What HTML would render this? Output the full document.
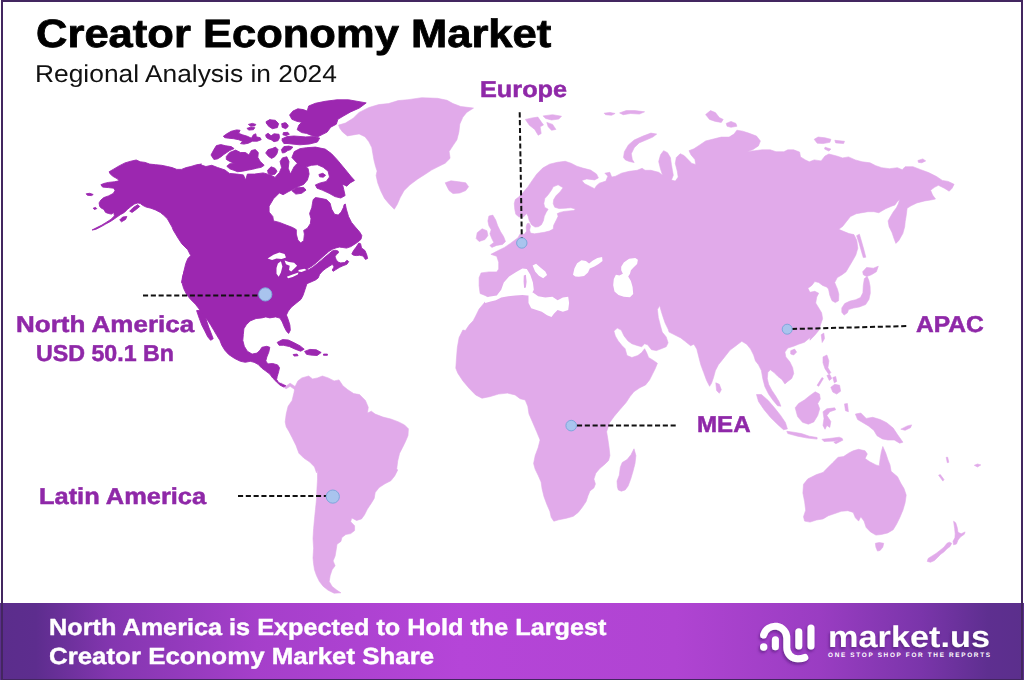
<!DOCTYPE html>
<html lang="en">
<head>
<meta charset="utf-8">
<title>Creator Economy Market - Regional Analysis in 2024</title>
<style>
html,body{margin:0;padding:0;}
body{width:1024px;height:680px;overflow:hidden;background:#fff;font-family:"Liberation Sans",sans-serif;position:relative;text-rendering:geometricPrecision;}
.frame{position:absolute;left:1px;top:0;width:1022px;height:680px;box-sizing:border-box;border:solid #432660;border-width:2px 2px 1.5px 2px;z-index:5;pointer-events:none;}
.t{position:absolute;white-space:nowrap;line-height:1;margin:0;transform-origin:0 0;}
.title{left:35.5px;top:15.4px;font-size:39.5px;font-weight:700;color:#000;-webkit-text-stroke:0.8px #000;}
.sub{left:35px;top:62.8px;font-size:24.5px;font-weight:400;color:#111;}
.lab{font-weight:700;color:#8f28a8;font-size:23px;-webkit-text-stroke:0.5px #8f28a8;}
.footer{position:absolute;left:0;top:603px;width:1024px;height:77px;
 background:linear-gradient(90deg,#5b2d8c 0%,#5d2d8e 3.5%,#8436b0 11%,#a53fca 25%,#b545d8 45%,#b044d2 66%,#9a3dc2 80%,#7a35aa 90%,#5e2f90 96.5%,#5b2f8c 100%);}
.ft{color:#fff;font-weight:700;font-size:23.2px;-webkit-text-stroke:0.4px #fff;}
svg{position:absolute;left:0;top:0;}
</style>
</head>
<body>
<svg width="1024" height="680" viewBox="0 0 1024 680">
<path d="M280.9,382.8 L286.2,386.0 L290.1,383.2 L295.4,386.7 L295.8,390.3 L290.1,386.3 L286.2,388.7 L280.3,385.2Z M338.6,125.1 L345.4,123.1 L353.2,118.2 L359.1,112.4 L368.9,107.5 L378.7,104.6 L388.5,103.6 L398.2,100.6 L408.0,99.7 L421.7,97.7 L437.4,98.3 L447.1,100.3 L453.0,103.6 L460.8,106.5 L473.5,108.1 L466.7,112.4 L462.8,117.3 L459.8,124.1 L458.9,131.9 L456.9,139.8 L453.0,145.6 L449.1,151.5 L450.1,158.3 L445.2,163.2 L437.4,167.1 L431.5,170.1 L425.6,174.0 L417.8,178.9 L410.0,184.8 L404.1,190.6 L400.2,197.5 L397.3,204.3 L394.3,209.2 L389.4,204.3 L384.5,198.4 L380.6,190.6 L377.7,182.8 L376.1,175.4 L377.1,171.1 L375.5,166.2 L374.0,160.3 L372.8,153.5 L371.8,147.6 L368.9,141.7 L365.0,136.8 L359.1,133.9 L353.2,134.9 L347.4,135.9 L342.5,131.9 L339.6,128.0Z M445.2,182.8 L451.0,180.8 L458.9,181.8 L465.7,182.8 L468.6,186.7 L465.7,190.6 L459.8,193.0 L453.0,193.6 L449.1,190.6 L447.1,186.7Z M295.0,386.7 L297.9,380.9 L301.8,377.9 L308.7,376.0 L312.6,378.9 L317.5,377.9 L322.4,376.0 L328.2,377.9 L334.1,380.9 L339.0,379.9 L342.9,385.8 L347.8,389.7 L353.7,393.6 L359.5,394.6 L365.4,400.4 L368.3,407.3 L367.4,413.1 L371.3,411.2 L375.2,414.1 L383.0,417.1 L390.8,419.0 L398.6,421.9 L404.5,424.9 L408.4,428.8 L408.0,435.6 L405.5,441.5 L402.6,447.4 L399.6,453.2 L397.7,461.1 L396.7,468.9 L397.7,470.0 L394.7,475.9 L390.8,480.8 L385.0,483.7 L379.1,487.6 L375.2,492.5 L374.2,498.4 L371.3,503.2 L367.4,509.1 L364.4,515.0 L361.5,518.9 L356.6,520.5 L351.7,517.9 L350.7,521.8 L354.6,525.7 L354.6,530.6 L350.7,533.6 L345.8,534.5 L341.9,537.5 L340.9,541.4 L337.0,544.3 L336.1,550.2 L335.1,556.1 L333.1,560.9 L335.1,565.8 L332.1,569.8 L330.2,575.6 L329.2,581.5 L332.1,586.4 L337.0,590.3 L340.9,592.8 L334.1,593.2 L328.2,590.3 L323.3,586.4 L319.4,581.5 L316.5,575.6 L314.5,569.8 L313.6,563.9 L313.0,558.0 L313.6,548.2 L313.0,538.5 L313.6,528.7 L314.5,518.9 L315.5,509.1 L316.5,499.3 L316.9,489.6 L317.5,479.8 L317.5,470.0 L316.5,472.8 L314.5,466.9 L309.7,462.0 L303.8,458.1 L298.9,453.2 L296.0,445.4 L292.1,437.6 L289.1,431.7 L286.2,426.8 L285.2,421.9 L286.2,414.1 L288.1,406.3 L292.1,400.4 L294.0,392.6Z M516.3,198.8 L518.2,197.5 L523.1,192.6 L528.0,186.7 L531.9,180.9 L536.8,174.0 L542.7,168.1 L549.5,164.2 L557.4,162.3 L565.2,161.3 L571.0,163.2 L576.9,166.2 L582.8,168.1 L590.6,170.1 L596.5,174.0 L598.4,177.9 L594.5,179.9 L586.7,178.9 L581.8,180.5 L584.7,183.8 L590.6,186.7 L594.5,188.7 L596.5,185.7 L599.4,183.2 L605.9,181.1 L607.8,176.2 L604.9,173.2 L609.8,172.3 L611.7,177.1 L615.6,176.2 L621.5,173.2 L629.3,171.3 L637.2,170.3 L642.1,168.3 L645.0,170.3 L650.9,170.3 L658.7,172.3 L662.6,175.2 L660.6,169.3 L658.7,161.5 L660.6,154.7 L663.6,150.7 L667.5,152.7 L670.4,157.6 L671.4,164.4 L672.4,170.3 L673.3,175.2 L671.4,180.1 L675.3,181.1 L678.2,177.1 L677.3,171.3 L675.3,163.5 L676.3,157.6 L680.2,153.7 L684.1,155.6 L688.0,159.5 L691.9,163.5 L695.8,164.4 L694.9,159.5 L690.9,154.7 L689.0,150.7 L693.9,148.8 L699.8,144.9 L705.6,141.0 L713.4,139.0 L721.3,137.1 L729.1,137.1 L734.0,134.1 L736.9,130.2 L742.8,131.2 L748.6,133.1 L756.5,136.1 L760.4,141.0 L758.4,145.9 L752.6,149.8 L746.7,151.7 L754.5,150.7 L762.3,149.8 L770.2,149.8 L776.0,151.7 L783.9,151.7 L787.8,149.8 L793.6,149.8 L799.6,152.1 L800.5,156.9 L805.4,159.9 L809.3,161.8 L814.2,159.9 L821.1,160.9 L825.0,156.0 L828.9,154.0 L836.7,156.0 L842.6,157.9 L848.5,156.9 L855.3,159.9 L862.1,161.8 L870.0,162.8 L875.8,165.7 L881.7,167.7 L889.5,168.7 L897.4,167.7 L902.2,169.7 L905.2,166.7 L913.0,166.7 L920.8,169.7 L928.6,172.6 L936.5,176.5 L942.3,180.4 L948.2,181.4 L954.1,184.3 L952.1,188.2 L949.2,191.2 L944.3,188.2 L938.4,185.3 L934.5,187.3 L930.6,190.2 L932.6,195.1 L935.5,199.0 L930.6,200.0 L924.7,200.9 L916.9,202.9 L911.0,205.8 L907.1,208.2 L906.2,215.6 L905.2,221.5 L904.7,226.7 L902.8,233.6 L898.9,240.4 L895.9,243.4 L894.0,238.5 L892.0,232.6 L889.1,226.7 L888.1,220.9 L890.5,216.6 L893.4,211.7 L896.4,207.8 L898.3,203.9 L899.7,199.6 L897.4,201.5 L895.0,204.9 L891.5,206.2 L885.6,208.8 L878.8,212.7 L873.9,211.7 L868.0,211.7 L862.1,212.7 L856.3,213.7 L850.4,216.6 L846.5,221.5 L842.6,226.4 L838.7,229.3 L844.1,231.6 L849.0,233.6 L853.9,234.6 L856.8,240.4 L857.8,248.2 L855.8,255.1 L851.9,261.9 L849.0,266.8 L846.1,271.7 L842.1,274.7 L837.3,277.6 L834.7,282.5 L836.3,286.4 L837.5,289.3 L838.8,294.2 L838.6,300.7 L835.3,302.6 L832.0,300.7 L829.8,295.2 L828.5,288.9 L826.5,287.0 L822.6,285.4 L818.7,282.5 L814.8,281.5 L811.8,285.4 L807.9,288.3 L809.9,292.3 L814.8,291.3 L818.7,293.2 L816.7,297.1 L815.7,303.0 L818.7,307.9 L821.6,312.8 L822.6,318.7 L820.6,324.5 L818.7,330.4 L814.8,335.3 L809.9,340.2 L810.3,337.4 L804.4,342.3 L798.6,344.2 L793.7,346.2 L787.8,348.1 L784.9,352.1 L785.8,356.9 L789.8,361.8 L792.7,367.7 L793.7,373.6 L791.7,378.5 L787.8,381.4 L784.9,383.9 L781.9,379.4 L778.0,376.5 L774.1,372.6 L770.2,369.7 L767.8,372.6 L767.3,378.5 L768.6,384.3 L771.8,390.2 L775.7,396.1 L779.0,401.5 L780.9,406.2 L777.6,405.8 L773.1,400.4 L768.6,394.1 L764.9,386.7 L762.8,378.8 L761.4,370.6 L758.5,364.8 L755.5,360.9 L753.6,355.0 L750.6,349.1 L746.7,344.2 L741.8,341.3 L737.9,344.2 L734.0,347.2 L730.1,350.1 L726.2,355.0 L722.3,359.9 L718.4,364.8 L715.4,370.6 L713.5,377.5 L711.5,383.3 L709.6,386.3 L706.6,380.4 L703.7,372.6 L700.8,364.8 L698.8,356.9 L696.8,349.1 L693.9,344.2 L690.6,345.7 L685.7,341.8 L680.8,337.9 L676.9,336.0 L673.0,334.0 L669.1,332.1 L668.1,329.1 L665.2,323.2 L663.2,317.4 L661.3,311.5 L659.7,305.6 L657.4,309.6 L658.3,317.4 L660.3,325.2 L662.2,332.1 L666.2,336.9 L668.1,342.8 L666.2,346.7 L661.3,348.7 L656.4,350.6 L651.5,349.7 L647.6,344.8 L644.6,343.8 L641.7,346.7 L637.8,345.7 L631.9,343.8 L628.0,340.9 L624.1,336.0 L621.2,330.1 L617.3,328.1 L613.9,331.1 L615.3,336.0 L618.2,340.9 L622.1,345.7 L625.1,348.7 L627.0,355.5 L631.9,357.5 L637.8,355.5 L641.7,352.6 L644.6,348.7 L646.6,352.6 L648.6,357.5 L653.4,360.4 L657.4,363.3 L655.4,368.2 L652.5,374.1 L649.5,380.0 L645.6,384.9 L639.8,387.8 L633.9,391.7 L630.0,396.6 L626.1,402.5 L620.2,409.3 L614.3,416.2 L609.4,423.0 L606.6,431.8 L607.9,439.4 L609.1,447.8 L609.9,455.6 L608.6,460.5 L604.6,464.4 L599.8,468.4 L595.8,473.2 L593.9,479.1 L595.4,484.0 L593.9,487.9 L590.0,490.9 L588.0,495.7 L586.1,501.6 L582.1,507.5 L578.2,512.4 L573.3,516.3 L566.5,518.2 L558.7,519.8 L553.8,521.2 L551.2,517.3 L549.9,511.4 L546.9,504.5 L544.0,496.7 L542.1,488.9 L541.1,482.1 L538.1,475.2 L535.2,469.3 L533.6,463.5 L535.2,455.6 L538.1,447.8 L540.1,440.0 L536.7,431.8 L532.9,422.9 L529.0,414.0 L527.8,406.3 L525.2,400.0 L520.1,398.7 L515.1,394.9 L507.4,393.1 L498.5,394.1 L489.6,396.7 L482.0,398.2 L475.6,394.9 L469.3,388.5 L462.9,380.9 L457.8,373.2 L455.8,368.2 L456.5,358.0 L457.3,347.8 L459.1,337.6 L462.9,330.0 L465.4,330.6 L469.3,324.8 L473.2,320.8 L476.2,315.0 L479.1,309.1 L484.0,303.2 L486.9,299.3 L488.9,297.4 L485.0,295.4 L480.1,293.5 L479.1,285.6 L479.1,277.8 L481.1,272.9 L488.9,271.9 L496.7,271.9 L498.7,269.0 L498.7,262.2 L496.7,256.3 L490.9,254.3 L498.7,250.3 L504.5,247.4 L510.4,243.4 L514.3,240.5 L518.2,237.6 L519.7,234.5 L524.6,234.0 L526.6,231.1 L526.1,227.1 L527.1,223.7 L529.1,223.2 L530.5,226.2 L529.6,230.1 L530.5,233.1 L534.5,233.8 L539.4,233.1 L544.3,232.3 L549.3,231.1 L553.2,229.1 L553.7,225.2 L555.2,222.2 L556.7,219.3 L558.1,216.3 L557.3,213.6 L560.1,212.4 L564.0,211.4 L569.0,210.9 L573.9,210.4 L575.4,208.9 L570.9,207.8 L565.0,208.2 L559.1,208.6 L554.7,207.2 L553.2,203.5 L553.7,199.6 L556.2,195.6 L560.1,191.7 L563.1,187.7 L558.1,184.8 L553.2,186.8 L551.7,189.7 L548.3,194.6 L544.8,198.6 L543.8,203.5 L544.8,207.4 L548.1,209.2 L546.1,212.4 L544.3,216.3 L543.4,220.7 L541.4,224.7 L538.4,226.7 L535.0,227.1 L531.5,224.7 L529.1,220.2 L528.1,216.3 L526.6,213.4 L525.1,215.3 L522.7,217.5 L518.7,216.8 L515.8,214.3 L514.8,209.4 L514.3,203.5 L515.3,199.6Z M488.9,216.1 L492.8,215.1 L495.7,220.0 L497.7,225.8 L500.6,231.7 L503.6,236.6 L505.5,241.5 L502.6,244.4 L496.7,245.4 L491.8,247.4 L489.9,245.4 L493.8,242.5 L491.8,238.6 L489.9,233.7 L491.2,229.8 L488.9,225.8 L487.9,220.9Z M477.2,232.7 L482.1,228.8 L486.9,230.7 L487.9,235.6 L485.0,239.5 L479.1,241.5 L476.2,238.6Z M623.5,157.6 L624.4,151.7 L628.4,144.9 L634.2,140.0 L643.0,136.1 L650.9,133.1 L656.7,134.1 L652.8,137.1 L646.0,140.0 L639.1,142.9 L634.2,147.8 L631.3,153.7 L632.3,159.5 L634.2,162.5 L629.3,161.5 L625.4,159.9Z M604.1,113.2 L610.0,112.4 L615.1,113.5 L611.5,115.3 L605.6,114.7Z M619.6,112.9 L626.2,110.6 L635.0,110.6 L644.6,111.8 L639.4,114.1 L630.6,113.5 L623.2,114.7Z M705.6,114.6 L710.5,110.6 L715.4,112.6 L719.3,117.5 L723.2,119.4 L721.3,122.4 L715.4,121.4 L709.5,119.4Z M726.2,123.4 L731.0,121.4 L735.9,123.4 L736.9,126.3 L731.0,127.3 L727.1,126.3Z M814.2,139.3 L818.1,137.0 L825.0,137.8 L830.9,139.3 L829.9,142.3 L823.0,143.6 L817.2,143.2Z M834.8,140.3 L844.5,141.3 L843.6,143.6 L835.7,142.9Z M825.0,147.2 L830.9,149.1 L828.9,151.1 L824.6,149.1Z M917.9,160.5 L922.8,158.9 L925.7,160.9 L921.8,162.8 L918.5,162.4Z M525.4,119.4 L532.1,117.9 L537.9,117.1 L541.2,121.8 L543.5,125.0 L540.1,126.8 L541.2,133.5 L538.2,135.3 L534.7,129.4 L529.4,125.3Z M543.1,115.9 L552.6,114.7 L561.5,116.2 L558.8,119.1 L551.5,120.0 L545.6,118.5Z M546.8,122.4 L552.6,124.4 L555.9,129.4 L551.5,130.3 L548.2,126.8Z M856.6,235.7 L859.4,234.2 L861.7,242.0 L863.9,249.8 L865.8,257.2 L863.3,257.6 L861.1,250.2 L859.0,242.8Z M862.7,271.7 L866.6,267.4 L873.4,268.2 L878.3,266.2 L876.4,271.7 L871.5,274.7 L866.6,276.6 L863.3,274.7Z M867.2,276.6 L868.9,280.5 L870.1,286.4 L870.3,293.2 L868.9,299.5 L865.6,304.6 L859.4,306.9 L853.5,308.1 L848.6,309.5 L847.4,312.8 L844.1,315.1 L841.8,312.2 L841.8,307.9 L844.7,303.6 L850.0,301.1 L855.8,299.7 L860.5,297.5 L862.9,292.8 L863.3,285.4 L864.4,278.6Z M821.2,334.7 L823.8,333.1 L824.5,338.6 L822.2,342.5Z M790.7,350.7 L794.6,349.1 L796.6,352.1 L793.7,355.0 L790.7,354.0Z M715.8,382.8 L719.3,384.3 L721.3,389.8 L719.3,393.3 L716.6,390.6Z M756.5,394.5 L761.4,394.5 L768.2,400.4 L774.5,407.8 L780.4,415.2 L785.4,422.5 L787.4,428.9 L783.5,429.7 L777.6,424.4 L770.6,417.6 L763.9,409.4 L758.5,401.5Z M786.8,431.3 L793.7,432.2 L801.5,433.6 L809.3,436.2 L817.1,437.5 L817.1,439.1 L807.4,438.1 L797.6,436.2 L787.8,433.6Z M795.2,407.8 L798.6,403.5 L804.4,400.0 L809.7,395.7 L815.2,391.8 L819.5,394.1 L820.3,399.0 L817.7,403.5 L819.7,408.8 L817.7,415.6 L813.8,421.9 L808.3,424.2 L802.5,422.3 L797.6,416.6Z M823.0,411.7 L826.9,408.8 L834.7,407.8 L835.7,409.8 L829.8,411.7 L826.9,415.6 L830.8,421.5 L829.8,427.4 L826.9,425.4 L825.0,429.3 L823.0,425.4 L824.0,418.6Z M823.0,356.9 L826.9,355.0 L828.9,360.9 L827.9,367.7 L830.8,372.6 L828.9,374.5 L825.0,368.7 L823.0,362.8Z M830.8,387.3 L834.7,384.3 L839.6,385.3 L840.6,391.2 L836.7,394.1 L832.8,392.1Z M826.9,375.5 L829.8,374.5 L831.8,378.5 L829.3,380.4Z M832.8,377.5 L835.7,376.5 L836.7,381.4 L834.3,382.8Z M817.1,385.3 L822.0,377.5 L823.4,378.5 L818.7,386.3Z M855.4,414.1 L860.8,413.0 L866.2,418.4 L872.7,417.3 L880.2,419.5 L886.7,422.7 L893.2,428.1 L897.5,434.6 L902.9,442.2 L899.7,443.2 L894.3,440.0 L887.8,440.0 L882.4,438.9 L877.0,435.7 L873.8,430.3 L868.4,425.9 L863.0,422.7 L857.6,419.5Z M900.8,429.2 L907.3,425.9 L911.6,424.9 L910.5,427.7 L905.1,430.3Z M821.9,439.3 L829.4,438.5 L839.2,437.2 L842.4,438.5 L834.9,441.1 L824.0,441.5Z M833.8,442.2 L841.3,438.5 L843.1,440.0 L835.9,443.7Z M844.5,403.9 L847.4,403.5 L848.4,411.7 L845.5,410.7Z M803.5,484.3 L807.8,478.9 L816.5,474.6 L823.0,472.4 L827.3,468.1 L832.7,462.7 L838.1,457.3 L843.5,456.6 L848.9,453.0 L853.2,450.8 L858.6,449.3 L865.1,450.8 L867.3,454.0 L865.1,458.4 L869.4,461.6 L875.9,464.9 L879.2,465.9 L880.2,458.4 L881.3,451.9 L882.8,446.5 L885.7,453.0 L887.8,459.4 L890.0,464.9 L891.1,471.3 L897.5,476.7 L900.8,483.2 L904.0,488.6 L906.2,495.1 L905.1,502.7 L902.9,510.2 L899.7,517.8 L896.5,524.3 L893.2,529.7 L887.8,532.9 L881.3,534.5 L875.9,535.1 L870.5,531.9 L866.2,527.5 L864.0,521.1 L860.8,516.7 L858.6,521.1 L855.4,517.8 L853.2,512.4 L847.8,510.7 L841.3,511.3 L834.9,513.5 L828.4,515.7 L823.0,518.9 L816.5,520.0 L810.0,522.1 L804.6,521.1 L803.5,516.7 L805.7,510.2 L804.6,501.6 L802.9,493.0Z M875.4,543.3 L879.3,542.5 L883.7,543.3 L882.8,547.2 L880.1,550.4 L877.5,551.1 L875.9,547.2Z M953.6,521.2 L955.7,522.8 L957.2,527.5 L958.0,532.3 L961.2,533.8 L965.1,531.9 L964.3,534.3 L960.4,537.0 L958.0,540.1 L956.4,544.1 L953.6,544.8 L953.0,541.2 L954.9,537.8 L955.2,533.8 L954.6,528.3Z M951.7,543.3 L950.1,546.4 L947.0,548.8 L943.9,551.9 L940.7,554.3 L937.6,557.4 L934.4,560.6 L930.5,562.2 L927.3,561.4 L928.1,558.5 L932.1,555.9 L936.0,553.5 L939.9,550.4 L943.9,547.2 L947.0,543.3 L949.4,542.2Z M617.4,486.9 L617.0,481.1 L619.3,475.2 L620.3,467.4 L622.2,462.5 L627.1,459.6 L631.0,454.7 L634.0,448.8 L635.9,455.6 L635.0,463.5 L633.0,471.3 L630.7,479.1 L628.1,486.0 L625.2,489.9 L621.3,491.2 L618.3,489.9Z M938.6,475.2 L940.3,474.6 L944.0,479.6 L942.9,481.1Z M946.2,457.3 L947.7,457.3 L948.8,462.3 L947.3,462.7Z M974.3,465.3 L977.5,464.0 L980.8,464.9 L977.5,467.0Z" fill="#e1aaea" fill-rule="nonzero" stroke="#e1aaea" stroke-width="0.6" stroke-linejoin="round"/>
<path d="M483.5,299.4 L488.8,296.8 L496.8,295.5 L501.2,289.7 L503.8,282.6 L509.1,276.5 L516.2,272.1 L522.4,268.5 L526.8,269.1 L530.3,274.7 L532.9,282.6 L533.8,289.7 L531.2,295.0 L527.6,295.5 L522.4,295.0 L515.3,295.5 L508.2,296.2 L501.2,297.6 L495.9,300.3 L490.6,301.5 L485.3,302.9Z M528.5,295.0 L532.9,292.4 L538.2,296.2 L545.3,297.6 L552.4,296.8 L557.6,300.3 L562.9,297.6 L568.2,296.8 L569.1,302.9 L568.2,310.0 L562.9,311.8 L557.6,310.0 L554.1,313.5 L551.5,317.1 L547.1,315.3 L541.8,311.8 L536.5,310.0 L531.2,308.2 L528.5,302.9Z M532.6,265.5 L536.1,263.8 L540.4,267.6 L545.3,271.5 L547.1,275.1 L543.2,278.2 L538.9,275.8 L535.1,271.5Z M573.0,274.7 L574.4,268.5 L577.1,263.2 L581.5,260.2 L585.9,260.9 L589.1,263.4 L592.9,260.6 L597.4,258.1 L602.1,257.1 L602.5,260.9 L598.6,264.1 L594.4,266.6 L589.8,268.4 L588.0,272.6 L584.1,275.9 L578.8,276.8 L575.3,276.5Z M621.2,266.8 L623.8,262.4 L629.1,258.8 L635.3,257.9 L637.9,259.7 L637.1,264.1 L633.5,267.6 L630.9,270.3 L630.0,273.8 L628.2,276.5 L630.9,280.9 L632.6,287.1 L633.2,294.1 L630.0,297.3 L623.8,296.8 L618.5,295.0 L614.5,291.5 L613.2,285.3 L613.8,279.1 L615.9,274.7 L619.4,275.6 L622.9,273.8 L621.2,270.3Z" fill="#ffffff" fill-rule="nonzero"/>
<path d="M523.8,275.6 L525.9,274.7 L526.6,281.8 L525.9,287.4 L524.1,287.9 L523.6,281.8Z" fill="#e1aaea" fill-rule="nonzero"/>
<path d="M119.7,220.0 L122.6,217.1 L126.8,216.5 L125.6,219.4 L121.5,221.8Z M129.7,211.2 L133.2,207.6 L137.9,204.7 L139.7,206.5 L136.2,209.4 L132.1,212.4Z M86.2,193.8 L89.7,193.3 L93.2,194.5 L91.5,195.6 L87.4,195.3Z M93.2,208.2 L95.6,207.4 L96.8,208.6 L94.4,209.5Z M266.2,121.5 L270.1,120.0 L274.0,122.0 L278.0,124.4 L277.0,127.4 L273.1,125.9 L269.1,124.9 L266.7,123.9Z M281.9,123.9 L284.9,122.8 L287.8,124.9 L286.9,127.7 L283.4,127.4Z M283.4,132.6 L287.8,132.3 L289.3,134.3 L285.9,135.6 L282.9,134.8Z M109.1,171.8 L113.2,169.4 L119.1,165.9 L125.0,162.9 L130.9,161.2 L136.2,160.0 L140.3,161.8 L145.0,162.4 L149.7,164.1 L155.6,164.7 L161.5,165.3 L167.4,166.5 L172.1,167.6 L176.8,169.4 L181.5,169.4 L186.2,167.6 L190.9,166.5 L196.8,164.7 L201.5,164.1 L200.0,164.6 L205.9,166.5 L211.8,165.3 L217.6,167.5 L225.0,170.0 L229.4,173.4 L236.8,174.1 L243.4,174.9 L245.6,180.0 L247.4,174.1 L254.4,174.1 L263.2,172.9 L270.6,174.9 L275.0,177.4 L279.4,172.6 L281.6,167.5 L280.1,161.6 L282.4,157.9 L286.8,156.8 L289.0,161.6 L288.2,168.2 L290.4,174.1 L294.1,166.8 L297.1,163.5 L302.9,164.6 L308.1,168.5 L309.1,174.1 L307.4,180.0 L303.7,184.4 L298.5,186.6 L294.1,188.8 L288.2,191.8 L283.1,194.7 L279.4,192.9 L273.5,198.8 L269.1,206.2 L269.1,212.1 L272.8,216.5 L273.5,220.9 L279.4,222.4 L286.8,225.3 L292.6,227.5 L296.3,229.7 L296.3,234.1 L297.8,240.0 L300.7,242.9 L303.7,240.7 L304.4,234.1 L303.7,230.4 L307.4,228.2 L310.3,223.8 L311.0,218.7 L309.6,213.5 L311.8,207.6 L312.5,203.2 L313.2,199.6 L315.4,197.6 L319.1,198.1 L326.5,199.6 L330.1,203.2 L331.6,209.1 L334.6,214.3 L338.2,215.0 L341.2,212.1 L343.4,207.6 L344.1,204.7 L345.3,204.0 L346.3,209.1 L348.5,216.5 L351.5,222.4 L355.1,226.8 L359.6,231.9 L361.8,235.6 L361.0,239.3 L357.1,242.6 L353.5,244.9 L350.9,246.6 L346.5,248.1 L342.9,247.5 L339.4,247.1 L335.9,247.9 L332.4,249.3 L328.8,251.5 L325.3,254.6 L320.9,258.5 L316.5,262.5 L312.1,266.0 L306.8,269.1 L308.5,269.8 L312.9,267.2 L317.4,263.6 L321.8,259.9 L326.2,256.1 L329.7,253.2 L332.4,250.9 L335.0,250.2 L338.1,251.0 L338.5,252.8 L336.3,254.6 L335.0,256.8 L336.3,259.9 L338.1,262.1 L340.7,262.9 L344.7,262.5 L346.9,260.3 L348.7,261.6 L346.9,264.3 L342.9,265.8 L339.4,267.4 L335.9,269.6 L333.2,271.3 L332.2,270.0 L334.1,266.9 L332.4,264.3 L329.7,266.0 L326.2,268.2 L322.6,270.9 L319.6,274.4 L318.2,277.9 L315.6,279.9 L312.1,281.5 L306.9,283.7 L305.0,289.6 L303.0,295.4 L301.0,299.3 L296.2,303.2 L291.3,307.2 L288.3,311.1 L286.4,315.0 L288.1,319.3 L289.9,325.2 L290.3,330.2 L288.7,333.4 L286.6,331.4 L284.2,326.7 L282.3,322.0 L279.9,318.1 L275.6,316.9 L269.8,317.9 L265.8,316.9 L261.9,317.9 L256.1,318.5 L250.2,320.9 L246.3,324.8 L243.9,328.7 L243.3,334.5 L242.8,340.4 L244.3,346.3 L247.3,351.2 L252.1,354.1 L257.0,353.1 L260.0,350.2 L261.9,347.3 L266.8,346.3 L269.8,347.3 L268.8,352.1 L266.8,357.0 L265.8,360.9 L267.8,363.9 L272.7,363.5 L277.6,364.9 L279.5,367.8 L278.6,371.7 L277.2,376.6 L276.6,379.5 L278.6,382.5 L282.5,384.4 L285.8,385.8 L283.4,386.8 L279.5,384.8 L275.6,380.9 L272.7,378.0 L269.8,374.1 L265.8,371.1 L261.9,368.2 L258.0,364.3 L254.1,362.3 L250.2,361.3 L245.3,362.3 L240.4,361.3 L234.5,358.4 L228.7,354.5 L224.8,350.2 L221.8,345.3 L219.9,340.4 L216.9,335.5 L214.0,330.6 L211.1,325.7 L208.1,320.9 L204.2,316.0 L201.3,312.1 L198.4,308.1 L195.4,304.2 L190.5,299.3 L186.6,294.4 L183.7,288.6 L181.7,281.7 L182.7,275.9 L184.7,270.0 L181.9,283.0 L183.9,271.3 L185.8,263.4 L187.8,258.6 L190.7,255.6 L187.8,249.8 L181.9,243.9 L178.0,238.0 L173.2,230.0 L172.1,227.1 L169.7,222.9 L167.4,218.8 L163.8,215.3 L160.3,212.4 L155.6,210.0 L150.9,208.2 L146.2,207.1 L142.6,205.3 L140.3,203.5 L137.9,202.9 L134.4,204.1 L130.9,206.5 L127.4,209.4 L124.4,212.4 L120.3,214.7 L116.2,217.6 L110.9,221.2 L105.6,224.1 L100.3,227.1 L95.6,229.4 L92.1,230.0 L96.8,227.6 L101.5,225.3 L106.2,222.4 L110.9,219.4 L114.4,215.9 L113.8,212.4 L111.5,214.1 L108.5,213.5 L105.6,212.4 L103.8,209.4 L101.5,208.2 L99.7,206.5 L99.1,202.9 L100.9,200.0 L103.8,197.6 L108.5,195.9 L113.2,193.5 L115.0,190.6 L113.8,188.2 L108.5,187.6 L102.6,187.1 L100.9,184.7 L103.8,183.5 L108.5,182.4 L114.4,181.8 L119.1,180.8 L117.4,178.8 L113.2,176.5 L110.3,174.1Z M196.6,310.6 L202.4,310.2 L204.8,315.3 L206.7,321.1 L208.7,327.0 L211.0,332.9 L213.2,338.7 L210.6,340.3 L207.7,336.8 L204.8,330.9 L201.8,325.1 L199.3,318.4Z M277.2,342.4 L282.5,339.6 L288.3,340.0 L294.2,342.8 L300.1,345.9 L304.2,349.2 L300.7,351.2 L295.2,349.2 L289.3,346.5 L283.4,345.3 L279.1,345.3Z M304.6,351.4 L309.8,349.4 L316.3,349.8 L321.2,352.5 L317.1,355.5 L310.8,355.1 L306.5,354.3Z M293.2,354.5 L297.1,354.1 L298.1,355.7 L294.2,356.1Z M323.5,354.1 L327.4,354.1 L327.4,355.3 L323.5,355.3Z M351.8,254.1 L353.5,250.6 L356.2,247.1 L358.8,243.1 L360.6,243.7 L361.5,247.9 L365.0,250.6 L366.8,255.0 L367.6,258.5 L365.4,259.4 L363.2,256.1 L359.7,255.2 L356.2,255.6 L353.5,255.2Z M289.6,115.0 L292.9,111.1 L297.8,108.8 L303.3,109.6 L307.2,111.1 L308.7,106.0 L315.4,103.3 L325.2,101.3 L336.9,99.8 L348.6,99.8 L366.2,102.9 L359.4,108.0 L350.6,111.9 L343.8,115.8 L337.9,119.3 L336.3,124.2 L330.7,127.2 L327.1,132.1 L322.2,134.6 L317.4,136.9 L311.5,135.4 L306.6,133.4 L301.7,132.6 L297.2,129.7 L298.8,125.2 L301.7,122.3 L296.8,121.3 L291.9,119.3Z M266.1,122.3 L269.4,119.7 L275.3,120.3 L278.6,123.6 L277.3,127.6 L272.4,128.7 L268.5,126.2Z M281.8,138.9 L287.0,136.6 L293.9,136.0 L305.6,136.9 L313.4,136.6 L319.7,138.1 L317.4,142.0 L309.5,144.0 L299.8,144.8 L291.9,144.0 L285.1,143.2Z M281.8,123.6 L286.1,122.9 L288.4,126.2 L285.7,128.7 L282.1,127.2Z M265.7,134.8 L268.1,133.3 L271.1,135.8 L274.0,133.8 L279.0,134.3 L279.5,137.7 L278.0,140.7 L274.0,141.7 L271.1,139.7 L268.1,138.7 L266.2,137.2Z M281.9,140.2 L284.9,139.2 L288.3,140.2 L287.8,143.2 L283.9,143.6Z M223.3,136.3 L226.8,133.8 L231.2,131.3 L236.6,129.9 L240.1,130.3 L238.6,133.3 L242.5,134.8 L247.4,136.3 L251.4,138.2 L253.4,134.8 L255.8,133.8 L256.3,136.8 L260.2,137.7 L261.2,139.7 L257.3,141.2 L252.4,141.2 L248.4,143.2 L244.0,144.1 L240.5,143.6 L242.5,141.2 L238.6,139.7 L233.6,138.7 L228.7,138.2 L224.8,137.7Z M248.4,124.4 L252.4,123.4 L255.8,124.4 L254.8,125.9 L250.4,126.1Z M246.9,128.4 L251.4,126.9 L254.8,127.7 L253.4,129.7 L248.9,130.1Z M211.0,155.0 L213.9,149.6 L216.4,145.6 L220.8,144.6 L225.8,145.8 L231.2,146.6 L234.1,148.6 L229.7,150.5 L226.8,152.5 L223.8,154.5 L220.8,156.9 L217.4,158.9 L213.9,159.4Z M226.3,156.5 L229.7,152.5 L235.6,150.1 L240.5,152.5 L245.5,152.5 L248.9,155.0 L251.4,150.5 L255.3,149.6 L258.3,152.5 L257.8,157.4 L260.2,161.4 L264.2,165.3 L261.2,167.3 L256.3,168.3 L252.4,169.3 L247.4,170.2 L242.5,171.2 L237.6,171.7 L233.6,170.2 L229.7,168.8 L226.8,166.3 L229.7,163.8 L234.6,163.4 L229.7,161.4 L226.3,159.4Z M265.7,153.0 L268.1,149.6 L272.1,148.6 L275.5,147.1 L278.0,149.6 L277.0,153.5 L275.0,156.5 L271.6,158.4 L268.6,156.5Z M267.6,170.2 L271.1,166.8 L275.0,168.3 L277.0,171.2 L275.0,174.2 L271.1,174.7 L268.1,173.2Z M281.4,149.6 L283.9,146.6 L288.8,146.1 L292.8,147.1 L290.8,149.6 L287.8,150.5 L284.9,152.5 L282.4,153.0Z M291.9,157.5 L294.3,151.6 L299.8,148.7 L306.6,147.7 L315.4,147.1 L325.2,149.1 L331.4,153.6 L336.9,159.4 L341.8,165.3 L346.7,171.2 L350.6,176.1 L354.5,180.4 L350.2,182.9 L346.7,186.2 L342.4,183.9 L343.8,189.8 L345.1,195.6 L340.8,198.0 L335.0,196.6 L329.1,193.3 L322.2,190.1 L317.0,188.2 L315.4,184.9 L320.3,182.9 L326.2,181.5 L329.5,177.0 L328.1,171.2 L323.2,167.3 L317.4,164.7 L311.5,165.3 L306.6,166.7 L301.7,165.3 L296.8,162.8Z M291.9,190.7 L296.8,187.8 L303.7,187.4 L306.0,190.1 L301.7,193.3 L295.8,194.1Z M318.9,174.5 L322.8,173.3 L325.6,175.3 L323.2,177.2 L319.7,176.8Z" fill="#9c27b0" fill-rule="nonzero" stroke="#9c27b0" stroke-width="0.9" stroke-linejoin="round"/>
<path d="M267.6,258.4 L273.5,254.7 L279.4,252.5 L284.6,254.0 L286.0,257.6 L281.6,259.1 L276.5,258.4 L272.1,259.9Z M277.9,263.5 L280.9,261.3 L282.4,266.5 L280.9,272.4 L278.7,276.8 L276.5,273.8 L276.5,267.9Z M284.6,260.6 L289.0,262.1 L294.1,262.8 L297.1,265.7 L294.1,268.7 L291.2,271.6 L289.0,270.1 L289.7,265.7 L286.0,264.3Z M286.8,276.8 L292.6,274.6 L298.5,272.4 L297.8,274.6 L292.6,277.1 L288.2,278.2Z M298.5,270.1 L304.4,268.7 L306.6,270.1 L301.5,272.1 L298.5,271.6Z" fill="#ffffff" fill-rule="nonzero"/>
<g stroke="#111" stroke-width="2" stroke-dasharray="5.1 2.7" fill="none">
<line x1="143" y1="295.5" x2="259" y2="295.5"/>
<line x1="519.7" y1="112.3" x2="521.8" y2="238"/>
<line x1="792" y1="329" x2="908" y2="326"/>
<line x1="577" y1="425.6" x2="676" y2="425.6"/>
<line x1="238" y1="496" x2="326" y2="496"/>
</g>
<g fill="#a9c4ee" stroke="#7fa6dc" stroke-width="1">
<circle cx="265.3" cy="294.4" r="6.6"/>
<circle cx="521.8" cy="243" r="5.2"/>
<circle cx="787.2" cy="329.2" r="5"/>
<circle cx="571.2" cy="425.6" r="5.3"/>
<circle cx="332.8" cy="496.6" r="6.6"/>
</g>
</svg>
<div class="frame"></div>
<h1 class="t title" id="title" style="transform:scaleX(1.102)">Creator Economy Market</h1>
<div class="t sub" id="sub" style="transform:scaleX(1.076)">Regional Analysis in 2024</div>
<div class="t lab" id="l_eu" style="left:480.3px;top:77.5px;transform:scaleX(1.099)">Europe</div>
<div class="t lab" id="l_na1" style="left:15.6px;top:312.5px;transform:scaleX(1.13)">North America</div>
<div class="t lab" id="l_na2" style="left:35.8px;top:341.5px;transform:scaleX(1.009)">USD 50.1 Bn</div>
<div class="t lab" id="l_la" style="left:38.5px;top:484.5px;transform:scaleX(1.105)">Latin America</div>
<div class="t lab" id="l_mea" style="left:697.2px;top:412.5px;transform:scaleX(1.048)">MEA</div>
<div class="t lab" id="l_apac" style="left:916.4px;top:313px;transform:scaleX(1.068)">APAC</div>
<div class="footer"></div>
<div class="t ft" id="f1" style="left:48.7px;top:616.4px;transform:scaleX(1.089)">North America is Expected to Hold the Largest</div>
<div class="t ft" id="f2" style="left:48.5px;top:645px;transform:scaleX(1.115)">Creator Economy Market Share</div>
<svg width="1024" height="680" viewBox="0 0 1024 680">
<defs><filter id="sh" x="-20%" y="-20%" width="150%" height="150%"><feDropShadow dx="-1" dy="2" stdDeviation="1.6" flood-color="#3a1460" flood-opacity="0.55"/></filter></defs>
<g filter="url(#sh)" fill="none" stroke="#fff" stroke-width="7" stroke-linecap="round">
<path d="M763.6,635 A11.8,11.8 0 0 1 786.8,638.6 L786.8,647.6 A11,11 0 0 0 797.8,658.8 C800.6,658.8 803,658.4 804.8,657.5"/>
<line x1="775.4" y1="639.8" x2="775.4" y2="646.7"/>
<line x1="798.8" y1="631.8" x2="798.8" y2="645.9"/>
<line x1="811" y1="628" x2="811" y2="645.9"/>
<circle cx="763.7" cy="647" r="3.7" fill="#fff" stroke="none"/>
</g>
<text id="mk" x="828" y="646.5" font-family="Liberation Sans, sans-serif" font-weight="700" font-size="30" fill="#fff" textLength="162" lengthAdjust="spacingAndGlyphs" filter="url(#sh)">market.us</text>
<text id="tag" x="828" y="657.3" font-family="Liberation Sans, sans-serif" font-weight="700" font-size="6.4" fill="#fff" textLength="162" lengthAdjust="spacing">ONE STOP SHOP FOR THE REPORTS</text>
</svg>
</body>
</html>
